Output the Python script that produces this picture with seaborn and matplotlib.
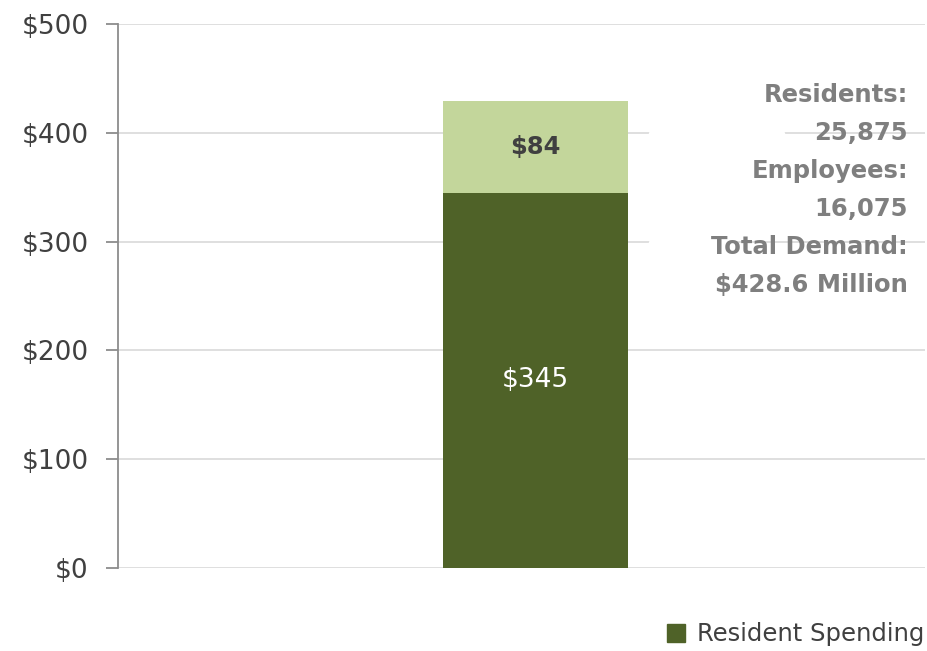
import matplotlib
matplotlib.use("Agg")
import matplotlib.pyplot as plt
import seaborn as sns
import pandas as pd
from matplotlib.patches import Patch

# Demand (in $ millions)
categories = ["Demand"]
resident_spending = [345]
employee_spending = [84]
y_ticks = [0, 100, 200, 300, 400, 500]
summary_lines = ["Residents:", "25,875", "Employees:", "16,075",
                 "Total Demand:", "$428.6 Million"]

dark_green = "#4F6228"
light_green = "#C3D69B"
text_grey = "#404040"
note_grey = "#7F7F7F"

sns.set_theme(style="white")
plt.rcParams["font.family"] = ["DejaVu Sans"]

df = pd.DataFrame({
    "cat": categories,
    "resident": resident_spending,
    "total": [r + e for r, e in zip(resident_spending, employee_spending)],
})

fig = plt.figure(figsize=(9.28, 6.51), dpi=100)
ax = fig.add_axes([118 / 928, 1 - 568 / 651, 807 / 928, 544 / 651])

# Stacked bar: total (light) behind, resident (dark) in front
sns.barplot(data=df, x="cat", y="total", color=light_green, saturation=1,
            width=0.5, ax=ax, zorder=2, linewidth=0)
sns.barplot(data=df, x="cat", y="resident", color=dark_green, saturation=1,
            width=0.5, ax=ax, zorder=3, linewidth=0)

ax.set_xlim(-1.128, 1.053)
ax.set_ylim(0, 500)
ax.set_yticks(y_ticks)
ax.set_yticklabels([f"${v}" for v in y_ticks], color=text_grey, fontsize=19)
ax.set_xticks([])
ax.set_xlabel("")
ax.set_ylabel("")

ax.grid(axis="y", color="#D9D9D9", linewidth=1.2, zorder=0)
ax.set_axisbelow(True)
for side in ["top", "right", "bottom"]:
    ax.spines[side].set_visible(False)
ax.spines["left"].set_color("#8C8C8C")
ax.spines["left"].set_linewidth(1.3)
ax.tick_params(axis="y", direction="out", length=9, width=1.3,
               color="#8C8C8C", pad=12, left=True)

# Segment value labels
res = resident_spending[0]
emp = employee_spending[0]
ax.text(0, res / 2, f"${res}", ha="center", va="center",
        color="white", fontsize=19, zorder=5)
ax.text(0, res + emp / 2, f"${emp}", ha="center", va="center",
        color=text_grey, fontsize=17.5, fontweight="bold", zorder=5)

# White gaps in the gridlines left of the summary text
for y_val, x0, x1 in [(400, 0.659, 0.824), (300, 0.659, 0.753)]:
    ax.plot([x0, x1], [y_val, y_val], color="white", linewidth=2.5,
            transform=ax.get_yaxis_transform(), zorder=1)

# Summary text block
y0 = 1 - 95 / 651
for i, line in enumerate(summary_lines):
    fig.text(908 / 928, y0 - i * (38 / 651), line, ha="right", va="center",
             color=note_grey, fontsize=17.5, fontweight="bold")

# Legend for resident spending only
handle = Patch(facecolor=dark_green, edgecolor=dark_green)
fig.legend([handle], ["Resident Spending"], loc="lower right",
           bbox_to_anchor=(1.007, -0.008), frameon=False, fontsize=17.5,
           handlelength=0.75, handleheight=0.75, handletextpad=0.5,
           labelcolor=text_grey, borderaxespad=0.0)

fig.savefig("out.png", dpi=100, facecolor="white")
